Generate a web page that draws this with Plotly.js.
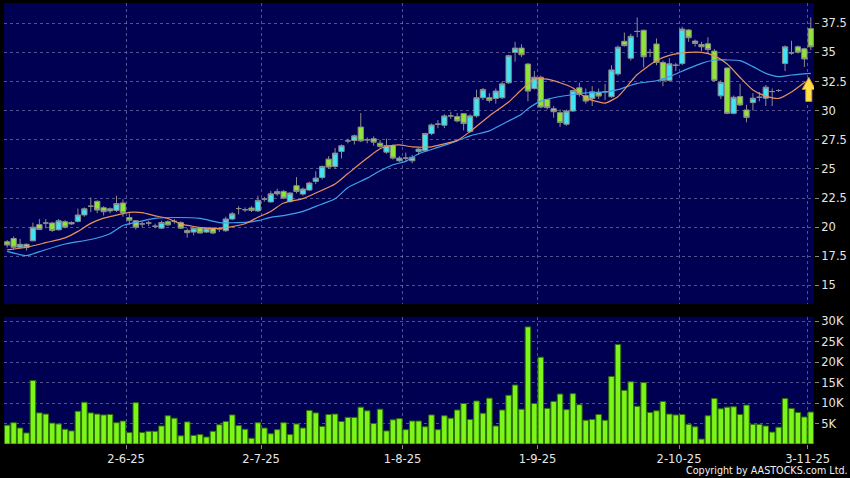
<!DOCTYPE html>
<html>
<head>
<meta charset="utf-8">
<script src="https://cdn.plot.ly/plotly-3.0.1.min.js"></script>
<style>
  html, body { margin: 0; padding: 0; background: #000; }
  #chart { width: 850px; height: 478px; }
</style>
</head>
<body>
<div id="chart"></div>
<script>
// ---- Data (trading-day index 0..125) ----
const openP = [
  18.75,19.03,18.28,18.53,18.83,20.22,20.36,20.36,19.78,20.47,
  20.28,20.50,21.05,21.80,22.22,21.67,21.40,21.44,22.08,20.83,
  20.55,20.28,20.36,20.08,19.92,20.47,20.50,20.40,19.72,19.58,
  19.94,19.58,19.92,19.86,19.70,20.70,21.60,21.50,21.65,21.40,
  22.42,22.17,22.86,23.07,22.21,23.56,22.84,23.19,23.93,24.27,
  25.84,25.21,26.50,27.41,27.44,28.59,27.50,27.59,27.21,26.44,
  27.01,25.70,25.93,25.70,26.50,26.56,28.04,28.84,28.75,29.55,
  29.49,29.74,28.21,29.55,31.11,31.11,31.05,31.11,32.39,35.00,
  35.37,34.00,31.90,32.87,30.97,30.17,29.83,28.84,29.97,31.96,
  31.31,31.05,31.59,31.62,31.20,33.15,35.95,34.50,36.80,36.90,
  35.00,35.72,34.14,32.60,33.90,34.04,36.92,35.97,35.68,35.74,
  35.11,31.27,33.66,29.77,31.21,30.06,30.69,31.15,31.07,31.64,
  31.73,34.04,34.96,35.48,35.31,37.04
];
const highP = [
  18.90,19.20,19.00,18.60,20.40,20.70,20.70,20.45,20.70,20.60,
  20.50,21.60,21.70,22.55,22.30,21.80,21.70,22.70,22.40,21.20,
  20.60,20.50,20.55,20.30,20.55,20.60,20.70,20.50,19.90,20.00,
  20.00,20.00,20.00,20.00,20.90,21.30,21.80,21.70,21.80,22.70,
  22.60,23.10,23.30,23.20,23.00,24.30,23.40,23.90,24.80,25.30,
  26.10,26.80,27.10,27.60,27.95,29.80,27.70,27.80,27.50,27.60,
  27.10,26.10,26.40,26.20,26.80,28.10,28.90,29.20,29.70,29.90,
  29.80,29.80,29.70,31.80,31.95,31.50,31.90,32.50,34.80,35.90,
  35.70,34.10,33.40,33.00,31.00,30.40,30.10,30.10,31.80,32.40,
  31.90,32.10,31.90,32.30,33.90,35.60,36.70,36.60,38.00,36.95,
  35.30,36.20,34.30,34.50,34.10,37.20,37.00,36.10,35.90,36.30,
  35.30,32.60,33.70,31.30,32.30,30.50,31.50,31.60,32.20,31.90,
  31.85,35.60,36.00,35.60,35.40,38.00
];
const lowP = [
  18.25,18.10,18.20,18.00,18.80,19.75,19.90,19.60,19.70,19.90,
  20.20,20.40,20.90,21.30,21.20,21.00,21.20,21.30,20.90,20.20,
  19.80,20.00,20.10,19.90,19.85,20.10,20.30,19.85,19.10,19.30,
  19.45,19.50,19.40,19.60,19.60,20.60,21.10,21.30,21.30,21.30,
  22.20,22.10,22.70,22.40,22.10,22.90,22.70,23.10,23.70,24.10,
  25.00,25.00,25.90,27.20,27.10,27.30,27.20,27.00,26.80,26.30,
  25.80,25.60,25.70,25.50,26.20,26.50,27.90,28.50,28.50,29.30,
  29.00,28.30,28.10,29.40,30.90,30.70,30.60,31.00,32.30,34.20,
  34.60,30.80,31.80,30.20,30.10,29.40,28.60,28.70,29.90,31.20,
  30.60,30.40,31.00,30.90,31.10,33.00,35.50,34.30,36.30,33.70,
  34.60,33.90,32.10,32.50,33.40,33.90,35.90,35.50,35.10,35.00,
  32.50,31.00,29.70,29.70,30.40,29.00,30.00,30.80,30.40,30.40,
  31.60,33.40,34.80,34.90,33.75,35.20
];
const closeP = [
  18.47,18.28,18.53,18.25,20.00,19.80,20.36,19.72,20.55,20.00,
  20.40,21.05,21.58,21.80,21.47,21.33,21.58,22.03,21.25,20.60,
  20.00,20.28,20.36,20.08,20.40,20.20,20.50,19.92,19.53,19.92,
  19.50,19.92,19.50,19.86,20.70,21.15,21.60,21.50,21.44,22.30,
  22.42,22.86,23.05,22.50,22.93,23.07,23.27,23.79,24.21,25.21,
  25.16,26.36,26.99,27.41,27.84,27.41,27.50,27.30,26.93,27.01,
  25.93,25.93,25.93,26.00,26.70,28.04,28.78,28.84,29.55,29.55,
  29.12,28.89,29.55,31.11,31.82,30.88,31.68,32.30,34.72,35.37,
  34.80,31.68,32.87,30.31,30.26,29.91,28.98,29.97,31.73,31.39,
  30.82,31.62,31.25,31.62,33.50,35.45,35.58,36.38,36.80,34.62,
  35.00,34.14,32.60,34.02,33.90,37.00,36.26,35.77,35.48,35.25,
  32.60,32.42,29.77,31.15,30.49,29.42,31.07,31.15,32.02,31.64,
  31.73,35.48,34.96,35.02,34.44,35.48
];
const volumeK = [
  4.6,5.2,3.9,2.7,15.5,7.6,7.3,5.1,4.9,3.6,
  3.2,8.0,10.2,7.6,7.3,7.1,7.2,5.2,5.6,2.8,
  10.1,2.8,3.1,3.1,4.4,6.9,6.3,2.0,5.4,2.1,
  2.3,1.7,3.1,4.7,5.5,7.1,4.5,3.6,1.4,5.2,
  3.9,2.5,3.5,5.2,2.3,4.9,3.9,8.2,7.6,4.3,
  7.2,7.3,5.5,6.5,6.5,9.0,8.1,5.0,8.5,3.2,
  5.9,6.2,3.5,5.6,5.6,4.2,7.1,3.5,6.9,6.3,
  8.3,9.9,6.0,10.5,7.5,11.2,4.4,8.3,11.9,14.4,
  8.5,28.6,9.9,21.2,8.7,10.4,12.2,8.4,12.3,9.6,
  5.8,6.0,7.2,5.8,16.5,24.3,13.1,15.2,9.2,15.0,
  7.7,8.1,10.4,7.3,7.1,7.2,4.8,4.2,1.2,6.9,
  11.1,8.6,9.0,9.1,7.2,9.5,4.8,4.8,4.4,2.9,
  4.1,11.1,8.7,7.7,6.6,7.8
];
// moving averages read at sampled days
const maShortX = [0,3,6,9,11,13,15,17,19,21,23,25,27,29,31,33,35,37,39,41,43,46,48,51,53,56,58,60,61,63,66,68,70,72,75,78,80,82,84,86,88,90,92,93,95,96,98,101,103,106,108,110,112,114,116,118,120,122,124,125];
const maShortY = [18.06,18.28,18.67,19.08,19.64,20.33,20.78,21.03,21.28,21.25,20.97,20.75,20.28,20.06,19.92,19.90,20.05,20.30,20.85,21.35,22.07,22.45,22.93,23.70,24.60,25.93,26.73,27.03,27.07,26.90,26.90,27.15,27.45,28.20,29.55,30.75,31.80,32.70,32.70,32.40,31.95,31.10,30.75,30.65,31.20,31.80,33.10,34.30,34.75,35.00,35.00,34.70,34.00,32.85,31.77,31.25,31.05,31.60,32.40,32.60];
const maLongX = [0,3,5,9,13,16,18,20,23,26,30,33,35,37,39,41,43,46,48,51,53,56,58,60,62,64,67,70,72,75,77,80,81,83,85,88,90,93,95,98,101,103,106,108,110,112,114,116,118,120,122,125];
const maLongY = [17.92,17.56,17.90,18.56,18.94,19.44,20.14,20.42,20.75,20.83,20.75,20.40,20.38,20.42,20.56,20.85,21.00,21.36,21.79,22.44,23.40,24.21,24.84,25.36,25.65,26.30,26.85,27.41,27.84,28.27,28.84,29.70,30.17,30.82,31.11,31.39,31.53,31.60,31.80,32.34,32.57,32.92,33.63,34.06,34.35,34.35,34.29,33.78,33.20,32.92,33.06,33.20];
const tickIdx = [18,39,61,82,104,124];
const tickLabels = ["2-6-25","2-7-25","1-8-25","1-9-25","2-10-25","3-11-25"];
const priceTicks = [15,17.5,20,22.5,25,27.5,30,32.5,35,37.5];
const volTicks = [5,10,15,20,25,30];
const volTickLabels = ["5K","10K","15K","20K","25K","30K"];

// ---- Build ----
const idx = openP.map((_, i) => i);
const NAVY = '#000052';
const GRID = 'rgba(150,150,200,0.55)';
const TXT = '#e6e6e6';
const FONT = 'DejaVu Sans, sans-serif';

const candles = {
  type: 'candlestick', x: idx, open: openP, high: highP, low: lowP, close: closeP,
  xaxis: 'x', yaxis: 'y',
  increasing: { fillcolor: '#3ee4f2', line: { color: '#8c8c8c', width: 1 } },
  decreasing: { fillcolor: '#8ee536', line: { color: '#8c8c8c', width: 1 } },
  whiskerwidth: 0, hoverinfo: 'skip', showlegend: false
};
const maShort = {
  type: 'scatter', mode: 'lines', x: maShortX, y: maShortY, xaxis: 'x', yaxis: 'y',
  line: { color: '#e8915c', width: 1.2, shape: 'spline', smoothing: 0.6 }, hoverinfo: 'skip', showlegend: false
};
const maLong = {
  type: 'scatter', mode: 'lines', x: maLongX, y: maLongY, xaxis: 'x', yaxis: 'y',
  line: { color: '#3ea2ea', width: 1.2, shape: 'spline', smoothing: 0.6 }, hoverinfo: 'skip', showlegend: false
};
const vol = {
  type: 'bar', x: idx, y: volumeK, xaxis: 'x', yaxis: 'y2', width: 0.86,
  marker: { color: '#7cf51a', line: { color: '#2f6e08', width: 1 } },
  hoverinfo: 'skip', showlegend: false
};

const lastIdx = idx[idx.length - 1];
const lastMA = maShortY[maShortY.length - 1];

const layout = {
  width: 850, height: 478,
  margin: { l: 4, r: 36, t: 3, b: 34 },
  paper_bgcolor: '#000', plot_bgcolor: '#000',
  font: { family: FONT, size: 11, color: TXT },
  showlegend: false, boxgap: 0.18, boxgroupgap: 0, bargap: 0,
  xaxis: {
    anchor: 'y2', range: [-0.5, lastIdx + 0.5],
    tickvals: tickIdx.map(t => t + 0.5), ticktext: tickLabels,
    showgrid: true, gridcolor: GRID, griddash: '3px,3px', gridwidth: 1,
    ticks: 'outside', ticklen: 4, tickcolor: '#888', zeroline: false, showline: false,
    rangeslider: { visible: false }, fixedrange: true,
    tickfont: { family: FONT, size: 11.5, color: TXT }
  },
  yaxis: {
    domain: [0.3175, 1], range: [13.41, 39.24], side: 'right', anchor: 'x',
    tickvals: priceTicks, showgrid: true, gridcolor: GRID, griddash: '3px,3px',
    ticks: 'outside', ticklen: 4, tickcolor: '#888', zeroline: false,
    tickfont: { family: FONT, size: 11.5, color: TXT }
  },
  yaxis2: {
    domain: [0, 0.2887], range: [0, 31.1], side: 'right', anchor: 'x',
    tickvals: volTicks, ticktext: volTickLabels, showgrid: true, gridcolor: GRID, griddash: '3px,3px',
    ticks: 'outside', ticklen: 4, tickcolor: '#888', zeroline: false,
    tickfont: { family: FONT, size: 11.5, color: TXT }
  },
  shapes: [
    { type: 'rect', xref: 'paper', yref: 'y domain', x0: 0, x1: 1, y0: 0, y1: 1,
      fillcolor: NAVY, line: { width: 0 }, layer: 'below' },
    { type: 'rect', xref: 'paper', yref: 'y2 domain', x0: 0, x1: 1, y0: 0, y1: 1,
      fillcolor: NAVY, line: { width: 0 }, layer: 'below' },
    { type: 'path', xref: 'x', yref: 'y', xsizemode: 'pixel', ysizemode: 'pixel',
      xanchor: lastIdx, yanchor: lastMA,
      path: 'M -2,3 L 4.5,-9 L 1,-9 L 1,-21 L -5,-21 L -5,-9 L -8.5,-9 Z',
      fillcolor: '#ffe04a', line: { color: '#e09a10', width: 1 }, layer: 'above' }
  ],
  annotations: [
    { xref: 'paper', yref: 'paper', x: 0.942, y: -0.061, xanchor: 'center', yanchor: 'middle',
      text: 'Copyright by AASTOCKS.com Ltd.', showarrow: false,
      font: { family: 'DejaVu Sans, sans-serif', size: 9.6, color: '#f0f0f0' } }
  ]
};

Plotly.newPlot('chart', [vol, candles, maLong, maShort], layout, { staticPlot: true, displayModeBar: false });
</script>
</body>
</html>
